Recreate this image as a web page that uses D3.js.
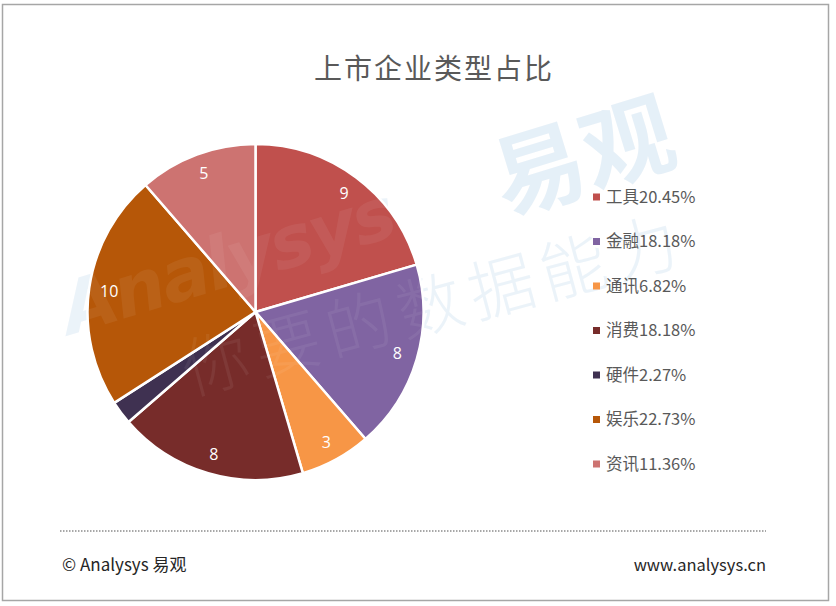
<!DOCTYPE html>
<html lang="zh">
<head>
<meta charset="UTF-8">
<title>上市企业类型占比</title>
<script src="https://d3js.org/d3.v7.min.js"></script>
<style>
  body { margin: 0; background: #fff; }
  svg { display: block; font-family: "Noto Sans CJK SC", "Open Sans", sans-serif; }
</style>
</head>
<body>
<svg width="836" height="606"></svg>
<script>
// data
const categories = ["工具", "金融", "通讯", "消费", "硬件", "娱乐", "资讯"];
const counts = [9, 8, 3, 8, 1, 10, 5];
const colors = ["#C0504D", "#8064A2", "#F79646", "#772C2A", "#3F3151", "#B65708", "#CD7371"];
const showLabel = [true, true, true, true, false, true, true];

const svg = d3.select("svg");
const total = d3.sum(counts);

// frame
svg.append("rect")
  .attr("x", 2.5).attr("y", 4.5)
  .attr("width", 826).attr("height", 596)
  .attr("fill", "#fff").attr("stroke", "#a6a6a6").attr("stroke-width", 1.5);

// title
svg.append("text")
  .attr("x", 434).attr("y", 79)
  .attr("text-anchor", "middle")
  .attr("font-size", 28)
  .attr("letter-spacing", 2)
  .attr("fill", "#595959")
  .text("上市企业类型占比");

// pie
const cx = 255.5, cy = 312, r = 168;
const pie = d3.pie().sort(null).value(d => d.v);
const arcs = pie(categories.map((c, i) => ({ name: c, v: counts[i], i })));
const arc = d3.arc().innerRadius(0).outerRadius(r);
const labelArc = d3.arc().innerRadius(r * 0.88).outerRadius(r * 0.88);

// watermark (behind)
const wm = svg.append("g")
  .attr("fill", "#9cc4e4")
  .style("pointer-events", "none");
wm.append("text")
  .attr("transform", "translate(70,335) rotate(-17)")
  .attr("font-family", "'DejaVu Sans', sans-serif")
  .attr("font-weight", "bold")
  .attr("font-style", "italic")
  .attr("font-size", 72)
  .attr("letter-spacing", -2)
  .attr("opacity", 0.2)
  .text("Analysys");
wm.append("text")
  .attr("transform", "translate(505,215) rotate(-17)")
  .attr("font-weight", "bold")
  .attr("font-size", 92)
  .attr("opacity", 0.25)
  .text("易观");
wm.append("text")
  .attr("transform", "translate(190,395) rotate(-15)")
  .attr("font-weight", 300)
  .attr("font-size", 66)
  .attr("letter-spacing", 8)
  .attr("opacity", 0.2)
  .text("你要的数据能力");

const g = svg.append("g").attr("transform", `translate(${cx},${cy})`);
g.selectAll("path.slice")
  .data(arcs)
  .enter().append("path")
  .attr("class", "slice")
  .attr("d", arc)
  .attr("fill", d => colors[d.data.i])
  .attr("stroke", "#fff")
  .attr("stroke-width", 2.5)
  .attr("stroke-linejoin", "round");

g.selectAll("text.val")
  .data(arcs.filter(d => showLabel[d.data.i]))
  .enter().append("text")
  .attr("class", "val")
  .attr("transform", d => `translate(${labelArc.centroid(d)})`)
  .attr("text-anchor", "middle")
  .attr("dy", "0.36em")
  .attr("font-family", "'Open Sans', sans-serif")
  .attr("font-size", 16)
  .attr("fill", "#fff")
  .text(d => d.data.v);

// faint watermark over the pie, like the reference
const wm2 = svg.append("g")
  .attr("fill", "#ffffff")
  .attr("opacity", 0.06)
  .style("pointer-events", "none");
wm2.append("text")
  .attr("transform", "translate(70,335) rotate(-17)")
  .attr("font-family", "'DejaVu Sans', sans-serif")
  .attr("font-weight", "bold")
  .attr("font-style", "italic")
  .attr("font-size", 72)
  .attr("letter-spacing", -2)
  .text("Analysys");
wm2.append("text")
  .attr("transform", "translate(190,395) rotate(-15)")
  .attr("font-weight", 300)
  .attr("font-size", 66)
  .attr("letter-spacing", 8)
  .text("你要的数据能力");

// legend
const legendY = d3.scalePoint().domain(categories).range([197, 464]);
const leg = svg.selectAll("g.leg")
  .data(categories)
  .enter().append("g")
  .attr("class", "leg")
  .attr("transform", d => `translate(593,${legendY(d)})`);
leg.append("rect")
  .attr("x", 0).attr("y", -3.5)
  .attr("width", 7).attr("height", 7)
  .attr("fill", (d, i) => colors[i]);
leg.append("text")
  .attr("x", 13).attr("dy", "0.36em")
  .attr("font-size", 16.5)
  .attr("fill", "#595959")
  .text((d, i) => d + (counts[i] / total * 100).toFixed(2) + "%");

// footer
svg.append("line")
  .attr("x1", 60).attr("x2", 766)
  .attr("y1", 531).attr("y2", 531)
  .attr("stroke", "#8c8c8c")
  .attr("stroke-width", 1.5)
  .attr("stroke-dasharray", "1.5,1.5");
svg.append("text")
  .attr("x", 62).attr("y", 571)
  .attr("font-size", 17)
  .attr("fill", "#262626")
  .text("© Analysys 易观");
svg.append("text")
  .attr("x", 766).attr("y", 571)
  .attr("text-anchor", "end")
  .attr("font-size", 16.5)
  .attr("fill", "#262626")
  .text("www.analysys.cn");
</script>
</body>
</html>
